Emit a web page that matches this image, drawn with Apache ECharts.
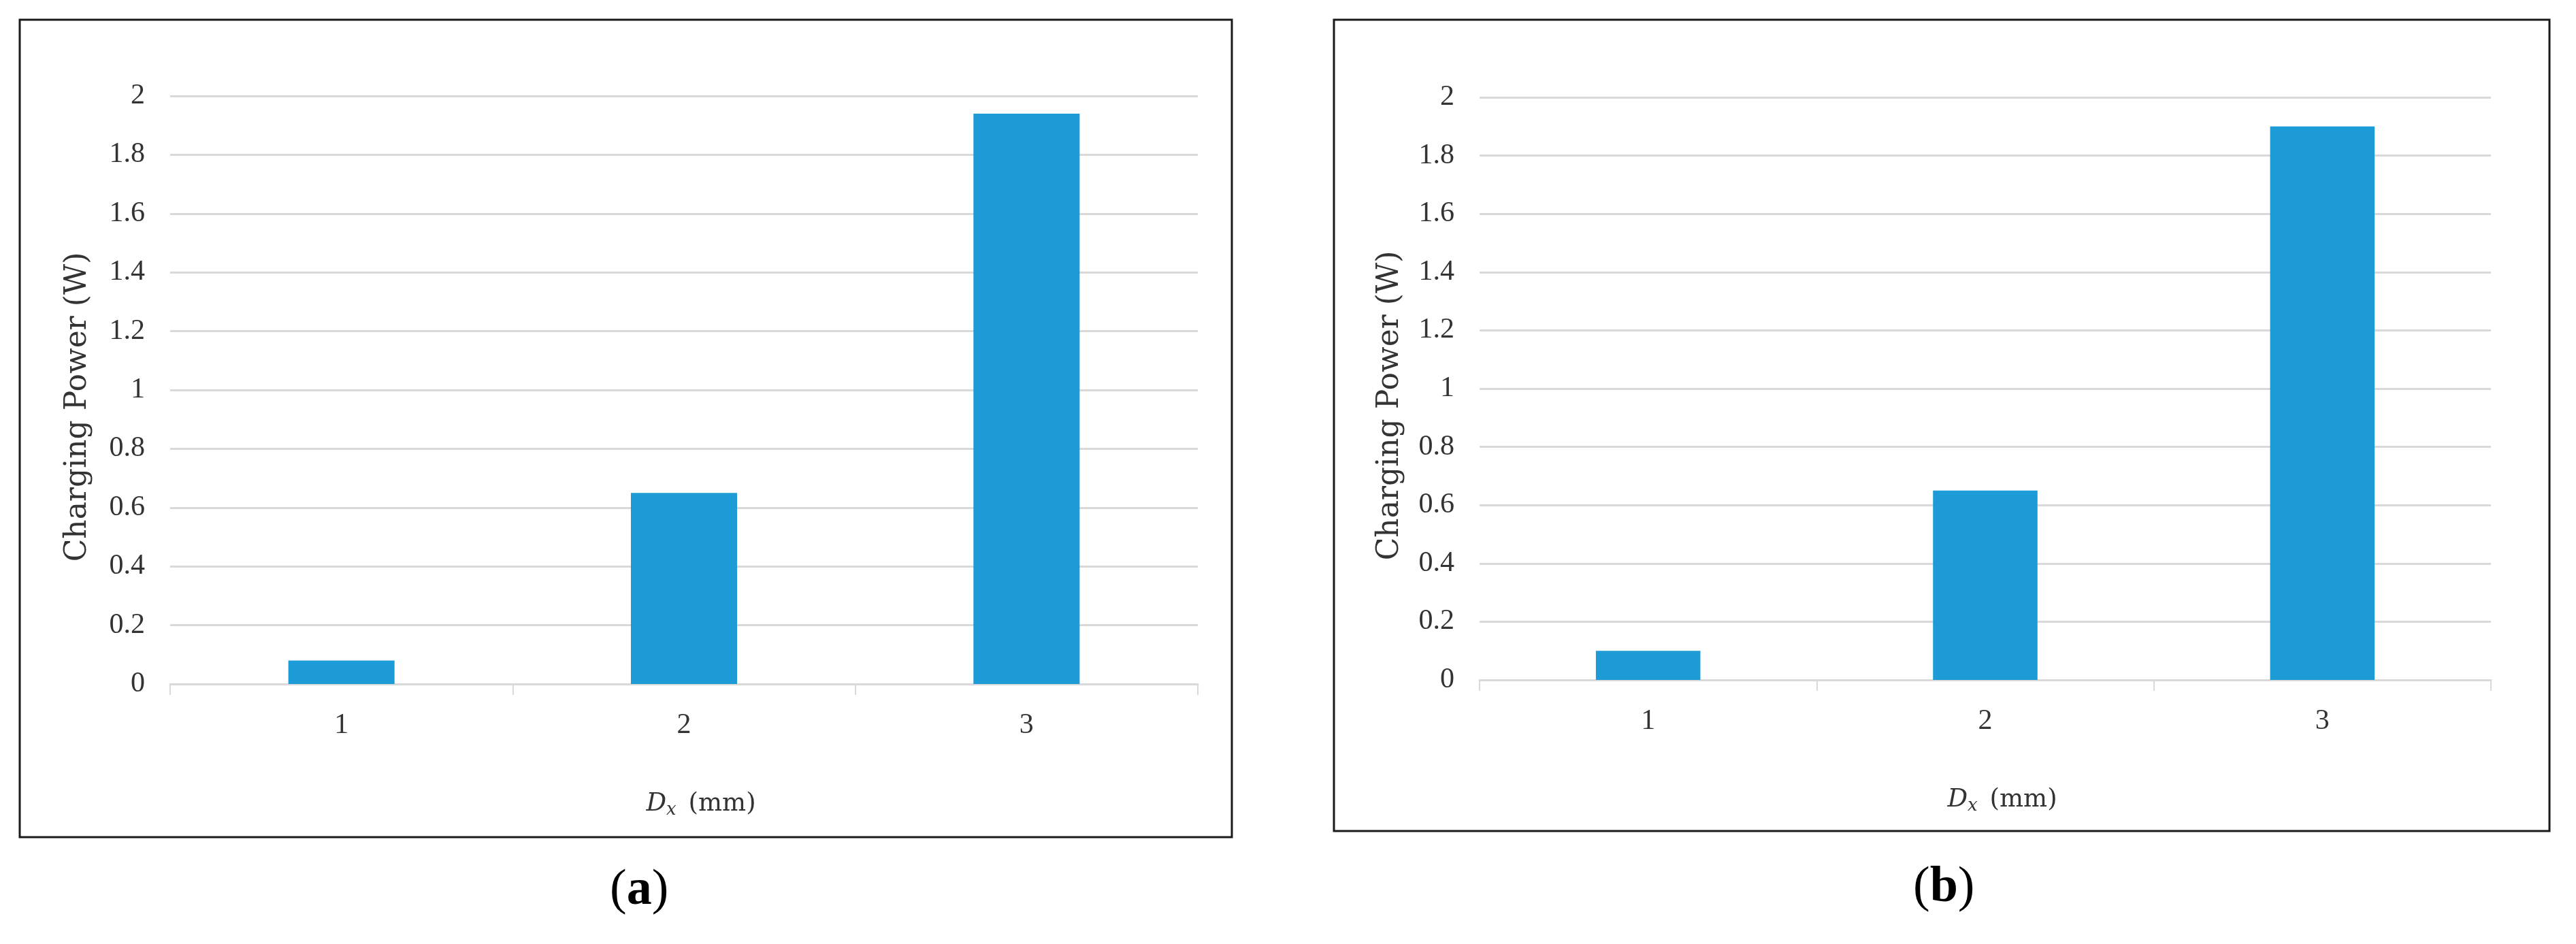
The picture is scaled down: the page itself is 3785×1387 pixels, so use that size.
<!DOCTYPE html>
<html>
<head>
<meta charset="utf-8">
<script src="https://cdn.jsdelivr.net/npm/echarts@6/dist/echarts.min.js"></script>
<style>html,body{margin:0;padding:0;background:#fff;}#c{width:3785px;height:1387px;}</style>
</head>
<body>
<div id="c"></div>
<script>
const categories = ['1', '2', '3'];
const valuesA = [0.08, 0.65, 1.94];
const valuesB = [0.10, 0.65, 1.90];
const yMin = 0, yMax = 2, yStep = 0.2;
const yTitle = 'Charging Power (W)';
const panelLabels = ['a', 'b'];

const chart = echarts.init(document.getElementById('c'), null, {renderer: 'canvas'});
const serif = 'DejaVu Serif';
const tickFont = 'Liberation Serif';
const gridColor = '#d9d9d9';
const barColor = '#1d9bd7';
const textColor = '#333333';

function xAxisFor(i) {
  return {
    type: 'category', gridIndex: i, data: categories,
    axisLine: {lineStyle: {color: gridColor, width: 3}},
    axisTick: {show: true, length: 16, lineStyle: {color: gridColor, width: 2}},
    axisLabel: {fontFamily: tickFont, fontSize: 42, color: textColor, margin: 40},
    name: '{d|D}{s|x} (mm)',
    nameLocation: 'middle', nameGap: 154,
    nameTextStyle: {
      fontFamily: serif, fontSize: 37, color: textColor, padding: [0, 0, 0, 50],
      rich: {
        d: {fontFamily: serif, fontSize: 37, fontStyle: 'italic', color: textColor},
        s: {fontFamily: serif, fontSize: 26, fontStyle: 'italic', color: textColor, padding: [18, 6, 0, 0]}
      }
    }
  };
}
function yAxisFor(i, gap) {
  return {
    type: 'value', gridIndex: i, min: yMin, max: yMax, interval: yStep,
    axisLine: {show: false}, axisTick: {show: false},
    splitLine: {lineStyle: {color: gridColor, width: 3}},
    axisLabel: {fontFamily: tickFont, fontSize: 42, color: textColor, margin: 37},
    name: yTitle, nameLocation: 'middle', nameGap: gap,
    nameTextStyle: {fontFamily: serif, fontSize: 44, color: textColor, padding: [0, 50, 0, 0]}
  };
}

const option = {
  backgroundColor: '#fff',
  animation: false,
  grid: [
    {left: 250, right: 3785 - 1760, top: 141, bottom: 1387 - 1005},
    {left: 2174, right: 3785 - 3660, top: 143, bottom: 1387 - 999}
  ],
  xAxis: [xAxisFor(0), xAxisFor(1)],
  yAxis: [yAxisFor(0, 113), yAxisFor(1, 109)],
  series: [
    {type: 'bar', xAxisIndex: 0, yAxisIndex: 0, data: valuesA, barWidth: '31%', itemStyle: {color: barColor}},
    {type: 'bar', xAxisIndex: 1, yAxisIndex: 1, data: valuesB, barWidth: '31%', itemStyle: {color: barColor}}
  ],
  graphic: [
    {type: 'rect', shape: {x: 29, y: 29, width: 1781, height: 1201}, style: {fill: 'none', stroke: '#1a1a1a', lineWidth: 3}, silent: true},
    {type: 'rect', shape: {x: 1960, y: 29, width: 1786, height: 1192}, style: {fill: 'none', stroke: '#1a1a1a', lineWidth: 3}, silent: true},
    {type: 'text', left: 941 - 45, top: 1272, style: {text: '(' + '{b|' + panelLabels[0] + '}' + ')', fontFamily: 'Liberation Serif', fontSize: 74, fill: '#000', rich: {b: {fontFamily: 'Liberation Serif', fontSize: 74, fontWeight: 'bold', fill: '#000'}}}},
    {type: 'text', left: 2856 - 45, top: 1268, style: {text: '(' + '{b|' + panelLabels[1] + '}' + ')', fontFamily: 'Liberation Serif', fontSize: 74, fill: '#000', rich: {b: {fontFamily: 'Liberation Serif', fontSize: 74, fontWeight: 'bold', fill: '#000'}}}}
  ]
};
chart.setOption(option);
</script>
</body>
</html>
